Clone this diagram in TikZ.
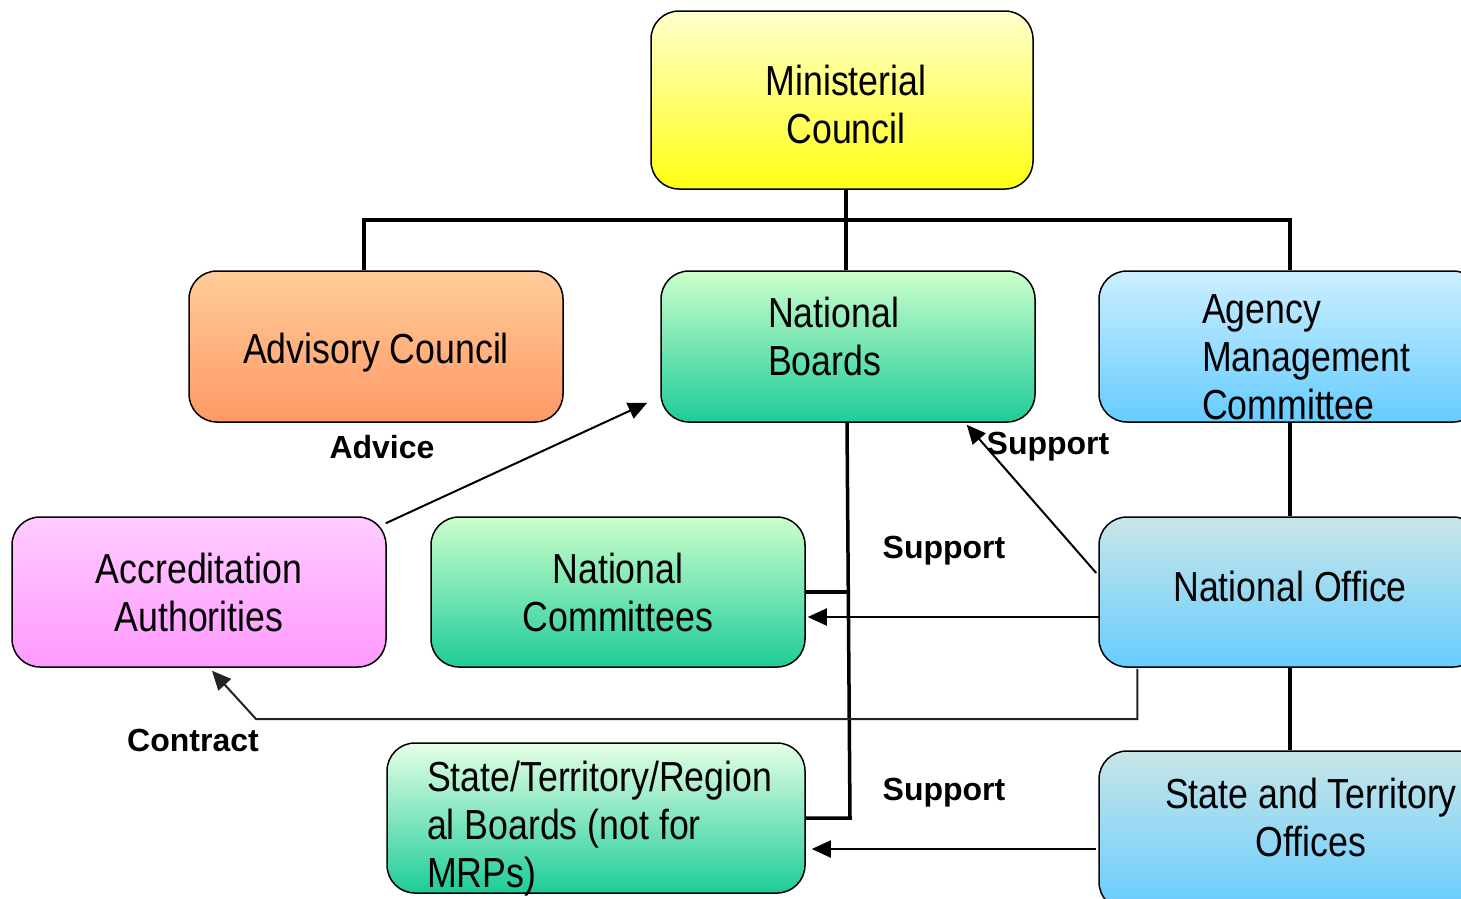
\documentclass[tikz,border=0pt]{standalone}
\usepackage{fontspec}
\setmainfont{Liberation Sans}
\newfontfamily\nar[FakeStretch=0.85]{Liberation Sans}
\usetikzlibrary{arrows.meta,calc}
\definecolor{yelT}{HTML}{FFFFCC}
\definecolor{yelB}{HTML}{FFFF14}
\definecolor{orT}{HTML}{FFCC99}
\definecolor{orB}{HTML}{FF9966}
\definecolor{grT}{HTML}{CCFFCC}
\definecolor{grB}{HTML}{1ECC99}
\definecolor{grT2}{HTML}{E6FFE6}
\definecolor{blT}{HTML}{CCEEFF}
\definecolor{blB}{HTML}{66CCFF}
\definecolor{tlT}{HTML}{C8E6E8}
\definecolor{pkT}{HTML}{FFCCFF}
\definecolor{pkB}{HTML}{FF99FF}
\definecolor{ctr}{HTML}{222222}
% text block inside a box: #1 raise, #2 column spec, #3 lines
\newcommand\bxt[3]{\raisebox{#1}[\height][\depth]{\begin{tabular}{@{}#2@{}}#3\end{tabular}}}
\tikzset{
  box/.style={draw=black, line width=1.5pt, rounded corners=28pt, inner sep=0pt,
    font={\nar\fontsize{42}{48}\selectfont}},
  bus/.style={line width=3.5pt, draw=black},
  tip/.style={-{Triangle[length=19pt,width=17pt]}},
  arr/.style={line width=2pt, draw=black, tip},
  lbl/.style={font={\bfseries\fontsize{32}{38}\selectfont}, inner sep=0pt}
}
\begin{document}
\begin{tikzpicture}[x=1pt,y=-1pt]
\useasboundingbox (0,0) rectangle (1461,898);
\clip (0,0) rectangle (1461,898);

% boxes
\node[box, minimum width=382, minimum height=178, top color=yelT, bottom color=yelB] (mc) at (842,100)
  {\hspace*{8pt}\bxt{-10pt}{c}{Ministerial\\Council}};
\node[box, minimum width=374, minimum height=151, top color=orT, bottom color=orB] (ac) at (376,346.5)
  {\bxt{-7pt}{c}{Advisory Council}};
\node[box, minimum width=374, minimum height=151, top color=grT, bottom color=grB] (nb) at (848,346.5)
  {\makebox[374pt][l]{\hspace*{107pt}\bxt{5pt}{l}{National\\Boards}}};
\node[box, minimum width=382, minimum height=151, top color=blT, bottom color=blB] (amc) at (1290,346.5)
  {\makebox[382pt][l]{\hspace*{103pt}\bxt{-15pt}{l}{Agency\\Management\\Committee}}};
\node[box, minimum width=374, minimum height=150, top color=pkT, bottom color=pkB] (aa) at (199,592)
  {\bxt{-6pt}{c}{Accreditation\\Authorities}};
\node[box, minimum width=374, minimum height=150, top color=grT, bottom color=grB] (nc) at (618,592)
  {\bxt{-6pt}{c}{National\\Committees}};
\node[box, minimum width=382, minimum height=150, top color=tlT, bottom color=blB] (no) at (1290,592)
  {\bxt{0pt}{c}{National Office}};
\node[box, minimum width=418, minimum height=150, top color=grT2, bottom color=grB] (sb) at (596,818)
  {\makebox[418pt][l]{\hspace*{40pt}\bxt{-12pt}{l}{State/Territory/Region\\al Boards (not for\\MRPs)}}};
\node[box, minimum width=424, minimum height=159, top color=tlT, bottom color=blB] (so) at (1311,830.5)
  {\bxt{8pt}{c}{State and Territory\\Offices}};

% hierarchy
\coordinate (bus) at (846,220);
\draw[bus] (mc.south -| bus) -- (nb.north -| bus);
\draw[bus] ($(ac.north)+(-12,0)$) -- ($(ac.north |- bus)+(-12,0)$) -- (amc.north |- bus) -- (amc.north);
\draw[bus] ($(nb.south)+(-1,0)$) -- ($(nb.south |- sb.east)+(2,0)$) -- (sb.east);
\draw[bus] (nb.south |- nc.east) -- (nc.east);
\draw[bus] (amc.south) -- (no.north);
\draw[bus] (no.south) -- (no.south |- so.north);

% arrows
\draw[arr] ($(aa.north east)+(-1,7)$) -- ($(nb.south west)+(-13,-20)$);
\draw[arr] ($(no.west)+(-2,-19)$) -- ($(nb.south east)+(-69,2)$);
\draw[arr] ($(no.west)+(1,25)$) -- ($(nc.east)+(2,25)$);
\draw[arr] ($(so.west)+(-2,18.5)$) -- ($(sb.east |- so.west)+(6,18.5)$);
\coordinate (ck) at (256,719);
\draw[line width=2pt, draw=ctr, tip] ($(no.south west)+(39,1)$) |- (ck) -- ($(aa.south)+(13,3)$);

% labels
\node[lbl] (lAdvice) at (382,447) {Advice};
\node[lbl] (lSup1) at (1048,447) {Support};
\node[lbl] (lSup2) at (944,551) {Support};
\node[lbl] (lSup3) at (944,793) {Support};
\node[lbl] (lContract) at (193,740) {Contract};
\end{tikzpicture}
\end{document}
